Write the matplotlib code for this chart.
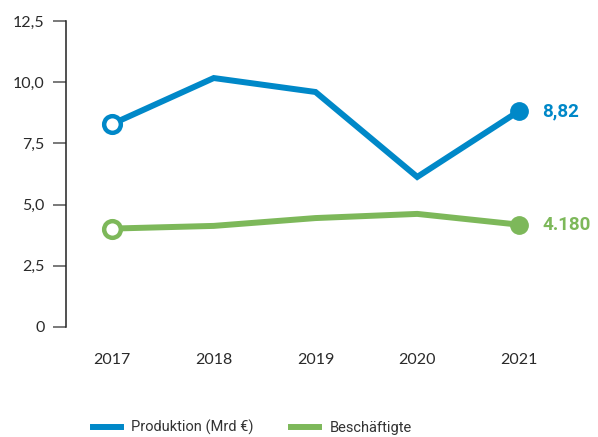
import matplotlib
matplotlib.use("Agg")
import matplotlib.pyplot as plt

years = [2017, 2018, 2019, 2020, 2021]
produktion = [8.29, 10.17, 9.6, 6.13, 8.82]
beschaeftigte = [4.02, 4.13, 4.45, 4.62, 4.18]
yticks = [0, 2.5, 5.0, 7.5, 10.0, 12.5]
ylabels = ["0", "2,5", "5,0", "7,5", "10,0", "12,5"]
end_labels = ["8,82", "4.180"]

blue = "#0088c8"
green = "#7db85a"

fig = plt.figure(figsize=(5.98, 4.37), dpi=100)
ax = fig.add_axes([66 / 598, 110 / 437, 502 / 598, 306 / 437])

for vals, col, lab, txt in [(produktion, blue, "Produktion (Mrd €)", end_labels[0]),
                            (beschaeftigte, green, "Beschäftigte", end_labels[1])]:
    ax.plot(years, vals, color=col, lw=4.3, solid_joinstyle="miter", label=lab, clip_on=False)
    ax.plot(years[0], vals[0], "o", ms=12, mfc="white", mec=col, mew=3.2, clip_on=False)
    ax.plot(years[-1], vals[-1], "o", ms=12.5, color=col, clip_on=False)
    ax.annotate(txt, (years[-1], vals[-1]), xytext=(17, 0), textcoords="offset points",
                va="center", ha="left", color=col, fontsize=13.5, fontweight="bold",
                family="Roboto")

ax.set_xlim(2017 - 46 / 101.75, 2017 + 456 / 101.75)
ax.set_ylim(0, 12.5)
ax.set_yticks(yticks)
ax.set_yticklabels(ylabels)
ax.set_xticks(years)
ax.set_xticklabels([str(y) for y in years])

for s in ["top", "right", "bottom"]:
    ax.spines[s].set_visible(False)
ax.spines["left"].set_color("#222222")
ax.spines["left"].set_linewidth(1.1)

ax.tick_params(axis="y", length=9.5, width=1.1, color="#555555", pad=6,
               labelsize=11.5, labelcolor="#2a2a2a")
ax.tick_params(axis="x", length=0, pad=19, labelsize=11.5, labelcolor="#2a2a2a")
for t in ax.get_xticklabels() + ax.get_yticklabels():
    t.set_family("Lato")

fig.legend(loc="upper left", bbox_to_anchor=(80 / 598, 30 / 437), ncol=2, frameon=False,
           handlelength=1.9, columnspacing=2.6, handletextpad=0.7,
           prop={"family": "Roboto", "size": 10.5}, labelcolor="#333333")

fig.savefig("out.png", dpi=100)
